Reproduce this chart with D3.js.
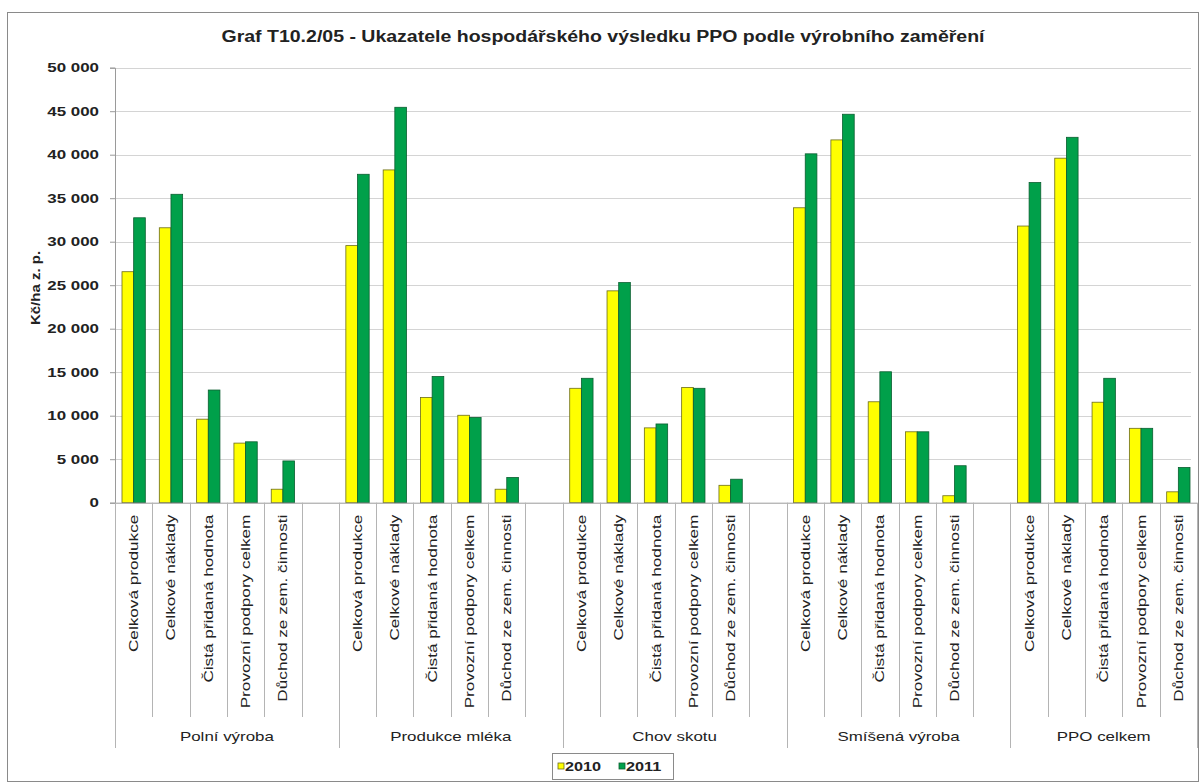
<!DOCTYPE html>
<html>
<head>
<meta charset="utf-8">
<script src="https://cdn.jsdelivr.net/npm/d3@7"></script>
<style>
  body { margin: 0; background: #fff; }
  svg text { font-family: "Liberation Sans", Arial, sans-serif; fill: #222; }
</style>
</head>
<body>
<svg width="1202" height="784"></svg>
<script>
// data (Kč/ha z. p.)
const groups = [ 'Polní výroba', 'Produkce mléka', 'Chov skotu', 'Smíšená výroba', 'PPO celkem' ];
const indicators = [ 'Celková produkce', 'Celkové náklady', 'Čistá přidaná hodnota',
                     'Provozní podpory celkem', 'Důchod ze zem. činnosti' ];
const years = [ '2010', '2011' ];
const values2010 = [
  [ 26550, 31600,  9600,  6850, 1550 ],
  [ 29550, 38250, 12100, 10050, 1550 ],
  [ 13150, 24350,  8600, 13250, 2000 ],
  [ 33900, 41700, 11600,  8150,  800 ],
  [ 31800, 39600, 11550,  8550, 1250 ]
];
const values2011 = [
  [ 32750, 35450, 12950,  7000, 4800 ],
  [ 37750, 45450, 14500,  9800, 2900 ],
  [ 14300, 25300,  9050, 13150, 2700 ],
  [ 40100, 44650, 15050,  8150, 4250 ],
  [ 36800, 42000, 14300,  8550, 4050 ]
];
const yTicks = [ 0, 5000, 10000, 15000, 20000, 25000, 30000, 35000, 40000, 45000, 50000 ];

const colors = { '2010': '#ffff00', '2011': '#00a04a' };
const strokes = { '2010': '#6b6b1a', '2011': '#0b5e30' };

const svg = d3.select( 'svg' );
const plotLeft = 115, plotRight = 1197, plotTop = 67.7, plotBottom = 502.7;

// stretch text a bit, the source font runs wide
function widen( sel, k ) {
  sel.each( function() {
    let len = this.getComputedTextLength();
    d3.select( this ).attr( 'textLength', len * k ).attr( 'lengthAdjust', 'spacingAndGlyphs' );
  } );
}

// outer frame
svg.append( 'rect' )
  .attr( 'x', 7.5 ).attr( 'y', 12.5 ).attr( 'width', 1191 ).attr( 'height', 769 )
  .attr( 'fill', 'none' ).attr( 'stroke', '#8a8a8a' );

// slots: 5 indicators per group plus a blank one between groups
let slots = [];
groups.forEach( ( g, gi ) => {
  indicators.forEach( ( c ) => slots.push( g + '|' + c ) );
  if ( gi < groups.length - 1 ) slots.push( g + '|blank' );
} );

const x = d3.scaleBand().domain( slots ).range( [ plotLeft, plotRight ] );
const xInner = d3.scaleBand().domain( years ).range( [ 0, x.bandwidth() ] ).paddingOuter( 0.6 );
const y = d3.scaleLinear().domain( [ 0, 50000 ] ).range( [ plotBottom, plotTop ] );

const fmt = d3.formatLocale( { decimal: ',', thousands: '\u00a0', grouping: [ 3 ], currency: [ '', '' ] } ).format( ',d' );

// gridlines
svg.append( 'g' )
  .selectAll( 'line' )
  .data( yTicks.filter( d => d > 0 ) )
  .join( 'line' )
  .attr( 'x1', plotLeft ).attr( 'x2', plotRight - 6 )
  .attr( 'y1', d => Math.round( y( d ) ) + 0.5 ).attr( 'y2', d => Math.round( y( d ) ) + 0.5 )
  .attr( 'stroke', '#d4d4d4' );

// y axis
const yAxis = svg.append( 'g' )
  .attr( 'transform', 'translate(' + plotLeft + ',0)' )
  .call( d3.axisLeft( y ).tickValues( yTicks ).tickFormat( fmt ).tickSize( 5 ).tickPadding( 11 ) );
yAxis.select( '.domain' ).attr( 'stroke', '#9a9a9a' );
yAxis.selectAll( '.tick line' ).attr( 'stroke', '#9a9a9a' );
yAxis.selectAll( 'text' )
  .style( 'font-size', '13px' ).style( 'font-weight', 'bold' ).attr( 'fill', '#333' );
widen( yAxis.selectAll( 'text' ), 1.3 );

// bars
let rows = [];
groups.forEach( ( g, gi ) => {
  indicators.forEach( ( c, ci ) => {
    rows.push( { key: g + '|' + c, year: '2010', value: values2010[ gi ][ ci ] } );
    rows.push( { key: g + '|' + c, year: '2011', value: values2011[ gi ][ ci ] } );
  } );
} );

svg.append( 'g' )
  .selectAll( 'rect' )
  .data( rows )
  .join( 'rect' )
  .attr( 'x', d => x( d.key ) + xInner( d.year ) )
  .attr( 'y', d => y( d.value ) )
  .attr( 'width', xInner.bandwidth() )
  .attr( 'height', d => y( 0 ) - y( d.value ) )
  .attr( 'fill', d => colors[ d.year ] )
  .attr( 'stroke', d => strokes[ d.year ] )
  .attr( 'stroke-width', 0.8 );

// x axis line
svg.append( 'line' )
  .attr( 'x1', plotLeft ).attr( 'x2', plotRight )
  .attr( 'y1', plotBottom + 0.5 ).attr( 'y2', plotBottom + 0.5 )
  .attr( 'stroke', '#9a9a9a' );

// separators between slots, longer ones between groups
let bounds = slots.map( ( s, i ) => ( { x: x( s ), groupStart: i === 0 || s.split( '|' )[ 0 ] !== slots[ i - 1 ].split( '|' )[ 0 ] } ) );
bounds.push( { x: plotRight, groupStart: true } );
svg.append( 'g' )
  .selectAll( 'line' )
  .data( bounds )
  .join( 'line' )
  .attr( 'x1', d => Math.round( d.x ) + 0.5 ).attr( 'x2', d => Math.round( d.x ) + 0.5 )
  .attr( 'y1', plotBottom ).attr( 'y2', d => d.groupStart ? 748 : 717 )
  .attr( 'stroke', '#b4b4b4' );

// category labels, rotated
const catLabels = svg.append( 'g' )
  .selectAll( 'text' )
  .data( slots.filter( s => !s.endsWith( '|blank' ) ) )
  .join( 'text' )
  .attr( 'transform', d => 'translate(' + ( x( d ) + x.bandwidth() / 2 + 4.5 ) + ',' + ( plotBottom + 12 ) + ') rotate(-90)' )
  .attr( 'text-anchor', 'end' )
  .style( 'font-size', '13px' )
  .text( d => d.split( '|' )[ 1 ] );
widen( catLabels, 1.32 );

// group labels
const groupLabels = svg.append( 'g' )
  .selectAll( 'text' )
  .data( groups )
  .join( 'text' )
  .attr( 'x', ( g, gi ) => {
    let first = x( g + '|' + indicators[ 0 ] );
    let last = gi < groups.length - 1 ? x( g + '|blank' ) + x.bandwidth() : plotRight;
    return ( first + last ) / 2;
  } )
  .attr( 'y', 741 )
  .attr( 'text-anchor', 'middle' )
  .style( 'font-size', '13px' )
  .text( d => d );
widen( groupLabels, 1.3 );

// title
const title = svg.append( 'text' )
  .attr( 'x', 603 ).attr( 'y', 42 )
  .attr( 'text-anchor', 'middle' )
  .style( 'font-size', '16px' ).style( 'font-weight', 'bold' )
  .text( 'Graf T10.2/05 - Ukazatele hospodářského výsledku PPO podle výrobního zaměření' );
title.attr( 'textLength', 763 ).attr( 'lengthAdjust', 'spacingAndGlyphs' );

// y axis title
const yTitle = svg.append( 'text' )
  .attr( 'transform', 'translate(40,288) rotate(-90)' )
  .attr( 'text-anchor', 'middle' )
  .style( 'font-size', '12px' ).style( 'font-weight', 'bold' )
  .text( 'Kč/ha z. p.' );
widen( yTitle, 1.25 );

// legend
const legend = svg.append( 'g' ).attr( 'transform', 'translate(552,753)' );
legend.append( 'rect' )
  .attr( 'x', 0.5 ).attr( 'y', 0.5 ).attr( 'width', 121 ).attr( 'height', 26 )
  .attr( 'fill', '#fff' ).attr( 'stroke', '#8a8a8a' );
const item = legend.selectAll( 'g' )
  .data( years )
  .join( 'g' )
  .attr( 'transform', ( d, i ) => 'translate(' + ( 6 + i * 61 ) + ',0)' );
item.append( 'rect' )
  .attr( 'x', 0 ).attr( 'y', 10 ).attr( 'width', 6 ).attr( 'height', 6 )
  .attr( 'fill', d => colors[ d ] ).attr( 'stroke', d => strokes[ d ] ).attr( 'stroke-width', 0.8 );
const itemText = item.append( 'text' )
  .attr( 'x', 7 ).attr( 'y', 18 )
  .style( 'font-size', '13px' ).style( 'font-weight', 'bold' )
  .text( d => d );
widen( itemText, 1.25 );
</script>
</body>
</html>
